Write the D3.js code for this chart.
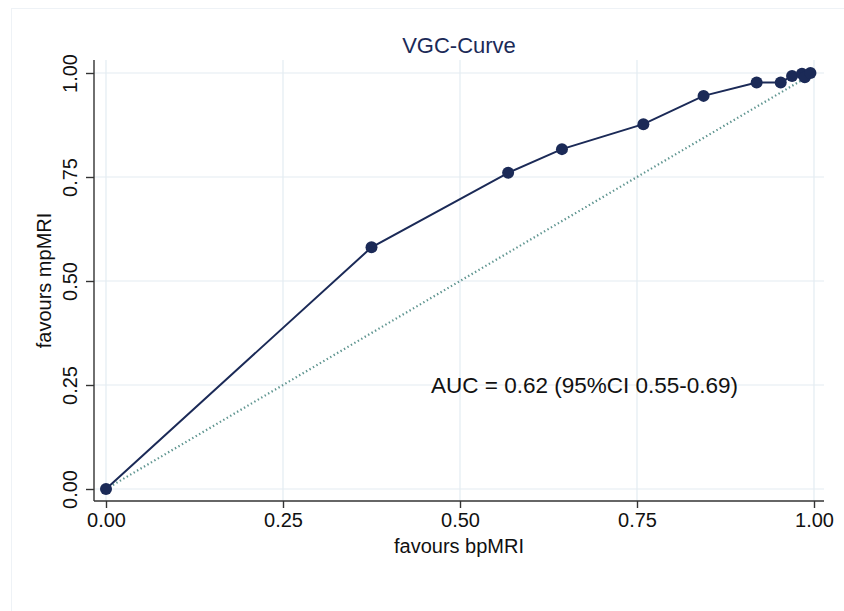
<!DOCTYPE html>
<html>
<head>
<meta charset="utf-8">
<script src="https://cdn.jsdelivr.net/npm/d3@7"></script>
<style>
  body { margin: 0; background: #fff; }
  text { font-family: "Liberation Sans", Arial, sans-serif; }
</style>
</head>
<body>
<div id="chart"></div>
<script>
var svgWidth = 844;
var svgHeight = 611;

// Values
var bpMRI = [0, 0.375, 0.568, 0.644, 0.759, 0.844, 0.919, 0.953, 0.969, 0.983, 0.987, 0.995];
var mpMRI = [0, 0.581, 0.760, 0.817, 0.877, 0.945, 0.977, 0.977, 0.993, 0.998, 0.990, 1.0];
var tickValues = [0, 0.25, 0.5, 0.75, 1];
var chartTitle = "VGC-Curve";
var aucLabel = "AUC = 0.62 (95%CI 0.55-0.69)";

var navy = "#1b2a57";

// Plot area (axis lines sit a bit outside the data range, like Stata)
var x0 = 106, x1 = 814, y0 = 489, y1 = 73;
var axisLeft = 94, axisBottom = 501, axisRight = 824, axisTop = 60;

var svg = d3.select("#chart")
  .append("svg")
  .attr("width", svgWidth)
  .attr("height", svgHeight);

// faint outer frame
svg.append("rect")
  .attr("x", 11.5)
  .attr("y", 8.5)
  .attr("width", 900)
  .attr("height", 700)
  .attr("fill", "none")
  .attr("stroke", "#eef2f6")
  .attr("stroke-width", 1);

var xScale = d3.scaleLinear().domain([0, 1]).range([x0, x1]);
var yScale = d3.scaleLinear().domain([0, 1]).range([y0, y1]);

// Gridlines
svg.append("g")
  .selectAll("line")
  .data(tickValues)
  .enter()
  .append("line")
  .attr("x1", d => xScale(d))
  .attr("x2", d => xScale(d))
  .attr("y1", axisTop)
  .attr("y2", axisBottom)
  .attr("stroke", "#e3ecf2")
  .attr("stroke-width", 1.2);

svg.append("g")
  .selectAll("line")
  .data(tickValues)
  .enter()
  .append("line")
  .attr("x1", axisLeft)
  .attr("x2", axisRight)
  .attr("y1", d => yScale(d))
  .attr("y2", d => yScale(d))
  .attr("stroke", "#e3ecf2")
  .attr("stroke-width", 1.2);

// Axes
var bottomAxis = d3.axisBottom(xScale)
  .tickValues(tickValues)
  .tickFormat(d3.format(".2f"))
  .tickSize(7)
  .tickPadding(5)
  .tickSizeOuter(0);
var leftAxis = d3.axisLeft(yScale)
  .tickValues(tickValues)
  .tickFormat(d3.format(".2f"))
  .tickSize(8)
  .tickSizeOuter(0);

var gx = svg.append("g")
  .attr("transform", `translate(0, ${axisBottom})`)
  .call(bottomAxis);
gx.select(".domain").remove();
gx.append("line")
  .attr("x1", axisLeft).attr("x2", axisRight)
  .attr("stroke", "#333").attr("stroke-width", 1.4);
gx.selectAll(".tick line").attr("stroke", "#333").attr("stroke-width", 1.4);
gx.selectAll(".tick text")
  .style("font-size", "20px")
  .attr("fill", "#111")
  .attr("font-family", "Liberation Sans, Arial, sans-serif");

var gy = svg.append("g")
  .attr("transform", `translate(${axisLeft}, 0)`)
  .call(leftAxis);
gy.select(".domain").remove();
gy.append("line")
  .attr("y1", axisTop).attr("y2", axisBottom)
  .attr("stroke", "#333").attr("stroke-width", 1.4);
gy.selectAll(".tick line").attr("stroke", "#333").attr("stroke-width", 1.4);
gy.selectAll(".tick text")
  .style("font-size", "20px")
  .attr("fill", "#111")
  .attr("font-family", "Liberation Sans, Arial, sans-serif")
  .attr("x", 0)
  .attr("dy", 0)
  .attr("transform", "translate(-17, 0) rotate(-90)")
  .style("text-anchor", "middle");

// Diagonal reference line
svg.append("line")
  .attr("x1", xScale(0))
  .attr("y1", yScale(0))
  .attr("x2", xScale(1))
  .attr("y2", yScale(1))
  .attr("stroke", "#5f9590")
  .attr("stroke-width", 2.2)
  .attr("stroke-dasharray", "1.4,2.6");

// Curve
var line = d3.line()
  .x((d, i) => xScale(bpMRI[i]))
  .y((d, i) => yScale(mpMRI[i]));

svg.append("path")
  .datum(bpMRI)
  .attr("d", line)
  .attr("fill", "none")
  .attr("stroke", navy)
  .attr("stroke-width", 2);

svg.append("g")
  .selectAll("circle")
  .data(bpMRI)
  .enter()
  .append("circle")
  .attr("cx", d => xScale(d))
  .attr("cy", (d, i) => yScale(mpMRI[i]))
  .attr("r", 6)
  .attr("fill", navy);

// Title and labels
svg.append("text")
  .attr("x", (axisLeft + axisRight) / 2)
  .attr("y", 53)
  .attr("text-anchor", "middle")
  .style("font-size", "22px")
  .attr("fill", navy)
  .text(chartTitle);

svg.append("text")
  .attr("x", (axisLeft + axisRight) / 2)
  .attr("y", 553)
  .attr("text-anchor", "middle")
  .style("font-size", "20px")
  .attr("fill", "#111")
  .text("favours bpMRI");

svg.append("text")
  .attr("transform", `translate(51, ${(axisTop + axisBottom) / 2}) rotate(-90)`)
  .attr("text-anchor", "middle")
  .style("font-size", "20px")
  .attr("fill", "#111")
  .text("favours mpMRI");

svg.append("text")
  .attr("x", 431)
  .attr("y", 393)
  .style("font-size", "22.5px")
  .attr("fill", "#111")
  .text(aucLabel);
</script>
</body>
</html>
